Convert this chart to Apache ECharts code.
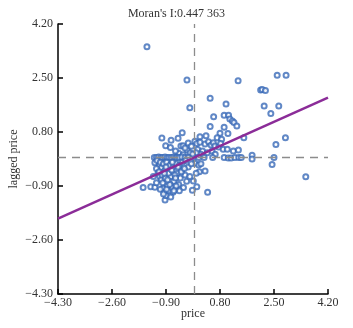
<!DOCTYPE html>
<html>
<head>
<meta charset="utf-8">
<script src="https://cdn.jsdelivr.net/npm/echarts@6/dist/echarts.min.js"></script>
<style>
  html, body { margin: 0; padding: 0; background: #fff; }
  #chart { width: 353px; height: 328px; }
</style>
</head>
<body>
<div id="chart"></div>
<script>
const moranI = 0.447363;
const axisTicks = [-4.3, -2.6, -0.9, 0.8, 2.5, 4.2];

// [price, lagged price]
const points = [
  [-1.50, 3.48], [-0.24, 2.44], [-0.15, 1.56], [1.37, 2.41], [0.49, 1.86], [0.99, 1.68],
  [2.08, 2.12], [2.13, 2.14], [2.23, 2.11], [2.60, 2.59], [2.88, 2.59], [2.19, 1.62],
  [2.65, 1.62], [2.40, 1.38], [2.86, 0.62], [2.56, 0.41], [2.50, 0.00], [2.44, -0.22],
  [3.50, -0.61], [1.81, 0.07], [1.81, -0.05],
  [0.60, 1.28], [0.93, 1.33], [1.07, 1.33], [1.11, 1.21], [1.19, 1.15], [1.24, 1.10],
  [1.33, 0.99], [0.49, 0.97], [0.93, 0.95], [0.17, 0.65], [0.36, 0.68], [0.80, 0.76],
  [1.05, 0.75], [0.71, 0.62], [0.85, 0.57], [1.55, 0.62],
  [0.01, 0.51], [0.07, 0.44], [0.17, 0.48], [0.33, 0.42], [0.44, 0.49], [0.52, 0.39],
  [0.59, 0.46], [0.64, 0.36], [0.76, 0.33], [0.82, 0.44], [0.90, 0.26], [1.03, 0.26],
  [1.22, 0.20], [1.38, 0.23], [0.10, 0.25], [0.25, 0.20], [0.40, 0.15], [0.55, 0.20],
  [0.20, 0.10], [0.05, 0.15], [0.65, 0.10],
  [-0.04, 0.00], [0.13, 0.00], [0.30, 0.00], [0.57, 0.00], [0.93, 0.00], [1.06, -0.02],
  [1.15, -0.02], [1.27, 0.00], [1.39, 0.00], [1.47, 0.00],
  [0.15, -0.45], [0.33, -0.43], [0.01, -0.18], [0.13, -0.24], [-0.04, -0.74], [0.07, -0.92],
  [-0.07, -1.03], [0.41, -1.10], [0.20, -0.20], [0.05, -0.50],
  [-1.03, 0.61], [-0.74, 0.54], [-0.52, 0.60], [-0.39, 0.78], [-0.91, 0.37], [-0.76, 0.31],
  [-0.43, 0.36], [-0.36, 0.37], [-0.23, 0.23], [-0.14, 0.15], [-0.06, 0.11], [-0.50, 0.13],
  [-0.36, 0.08], [-0.60, 0.20], [-0.30, 0.30], [-0.20, 0.45], [-0.10, 0.35],
  [-1.27, 0.00], [-1.20, 0.00], [-1.13, 0.01], [-1.06, 0.00], [-1.00, 0.00], [-0.93, 0.01],
  [-0.86, 0.00], [-0.80, 0.00], [-0.73, 0.00], [-0.66, 0.01], [-0.60, 0.00], [-0.55, 0.00],
  [-0.48, 0.00], [-0.40, 0.01], [-0.30, 0.00], [-0.20, 0.00],
  [-1.62, -0.95], [-1.38, -0.92], [-1.25, -0.94], [-0.99, -0.97], [-0.93, -1.34], [-1.25, -0.17],
  [-1.11, -0.25], [-1.04, -0.32], [-0.93, -0.40], [-1.20, -0.35], [-1.15, -0.50], [-1.10, -0.60],
  [-1.05, -0.70], [-1.00, -0.80], [-0.95, -1.10], [-0.90, -1.20], [-0.85, -0.90], [-0.80, -1.05],
  [-0.75, -0.60], [-0.70, -0.95], [-0.65, -0.75], [-0.60, -1.00], [-0.55, -0.50], [-0.50, -0.85],
  [-0.45, -0.65], [-0.40, -0.40], [-0.35, -0.95], [-0.30, -0.55], [-0.25, -0.75], [-0.20, -0.30],
  [-0.15, -0.60], [-0.10, -0.20], [-1.18, -0.10], [-1.08, -0.15], [-0.98, -0.20], [-0.88, -0.15],
  [-0.78, -0.25], [-0.68, -0.30], [-0.58, -0.20], [-0.48, -0.25], [-0.38, -0.15], [-0.28, -0.10],
  [-1.12, -0.45], [-1.02, -0.55], [-0.92, -0.65], [-0.82, -0.50], [-0.72, -0.40], [-0.62, -0.55],
  [-0.52, -0.30], [-0.42, -0.45], [-0.32, -0.35], [-1.08, -1.00], [-0.98, -1.15], [-0.88, -1.00],
  [-0.78, -0.85], [-0.68, -1.10], [-0.58, -0.90], [-0.48, -1.05], [-0.85, -0.70], [-0.95, -0.50],
  [-0.90, -0.30], [-0.70, -0.15], [-0.60, -0.65], [-1.30, -0.60], [-1.20, -0.80], [-0.75, -1.25],
  [-0.65, -1.05]
];

const xMin = -4.3, xMax = 4.2;
const fitLine = [[xMin, xMin * moranI], [xMax, xMax * moranI]];

const fmt = (v) => (v < 0 ? '\u2212' : '') + Math.abs(v).toFixed(2);
const textStyle = { fontFamily: 'Liberation Serif', fontSize: 12, color: '#333' };

const chart = echarts.init(document.getElementById('chart'));
chart.setOption({
  animation: false,
  title: {
    text: "Moran's I:" + '0.447 363',
    left: 'center',
    top: 3,
    textStyle: { fontFamily: 'Liberation Serif', fontSize: 12, fontWeight: 'normal', color: '#333' }
  },
  grid: { left: 58, right: 25, top: 24, bottom: 34, containLabel: false, outerBoundsMode: 'none' },
  xAxis: {
    type: 'value', min: xMin, max: xMax,
    name: 'price', nameLocation: 'middle', nameGap: 14, nameMoveOverlap: false,
    nameTextStyle: textStyle,
    axisLine: { onZero: false, lineStyle: { color: '#000', width: 1.5 } },
    axisTick: { inside: true, length: 5, customValues: axisTicks, lineStyle: { color: '#000', width: 1.5 } },
    axisLabel: { customValues: axisTicks, formatter: fmt, margin: 3, ...textStyle },
    splitLine: { show: false }
  },
  yAxis: {
    type: 'value', min: xMin, max: xMax,
    name: 'lagged price', nameLocation: 'middle', nameGap: 38, nameMoveOverlap: false,
    nameTextStyle: textStyle,
    axisLine: { onZero: false, lineStyle: { color: '#000', width: 1.5 } },
    axisTick: { inside: true, length: 5, customValues: axisTicks, lineStyle: { color: '#000', width: 1.5 } },
    axisLabel: { customValues: axisTicks, formatter: fmt, margin: 5, ...textStyle },
    splitLine: { show: false }
  },
  series: [
    {
      type: 'scatter',
      data: points,
      symbol: 'emptyCircle',
      symbolSize: 5,
      itemStyle: { color: '#3a6ab8', borderWidth: 1.5 },
      markLine: {
        silent: true,
        symbol: 'none',
        label: { show: false },
        lineStyle: { color: '#8c8c8c', type: [8, 6], width: 1.3 },
        data: [{ xAxis: 0 }, { yAxis: 0 }]
      },
      z: 2
    },
    {
      type: 'line',
      data: fitLine,
      showSymbol: false,
      lineStyle: { color: '#8b2c98', width: 2.5 },
      z: 3
    }
  ]
});
</script>
</body>
</html>
